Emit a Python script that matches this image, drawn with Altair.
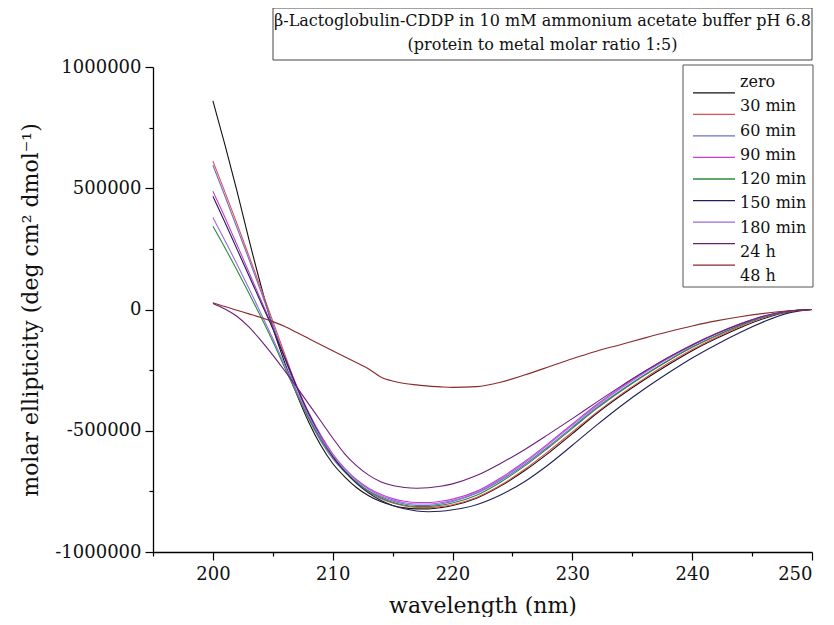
import altair as alt
import pandas as pd

# wavelengths (nm)
WL = list(range(200, 221)) + list(range(222, 251, 2))

SERIES = ["zero", "30 min", "60 min", "90 min", "120 min", "150 min", "180 min", "24 h", "48 h"]
COLORS = ["#111111", "#e05050", "#6f6fc8", "#c83ccf", "#2a8a3a", "#202058", "#9a6ae8", "#6a1f78", "#8a2a2a"]

zero = [860000, 680000, 490000, 290000, 100000, -75000, -220000, -350000, -465000, -560000, -635000,
        -690000, -735000, -768000, -792000, -808000, -818000, -822000, -822000, -817000, -808000,
        -778000, -728000, -665000, -592000, -512000, -430000, -357000, -290000, -228000, -170000,
        -120000, -75000, -37000, -10000, 0]
m30 = [612000, 485000, 355000, 222000, 88000, -48000, -185000, -320000, -440000, -535000, -610000,
       -668000, -715000, -752000, -779000, -798000, -810000, -816000, -817000, -813000, -805000,
       -775000, -725000, -660000, -585000, -505000, -425000, -352000, -285000, -222000, -165000,
       -115000, -70000, -33000, -9000, 0]
m60 = [595000, 468000, 338000, 208000, 75000, -62000, -200000, -338000, -452000, -543000, -615000,
       -670000, -715000, -748000, -772000, -790000, -802000, -808000, -808000, -802000, -792000,
       -758000, -705000, -640000, -565000, -485000, -405000, -335000, -270000, -210000, -155000,
       -108000, -65000, -30000, -8000, 0]
m90 = [488000, 380000, 268000, 155000, 40000, -75000, -195000, -315000, -425000, -518000, -595000,
       -655000, -702000, -737000, -762000, -780000, -791000, -796000, -796000, -791000, -782000,
       -750000, -695000, -628000, -552000, -472000, -393000, -322000, -257000, -198000, -145000,
       -99000, -59000, -27000, -7000, 0]
m120 = [343000, 255000, 163000, 68000, -30000, -132000, -240000, -348000, -448000, -535000, -607000,
        -665000, -712000, -749000, -776000, -795000, -807000, -812000, -812000, -807000, -798000,
        -766000, -712000, -646000, -570000, -490000, -410000, -338000, -272000, -211000, -156000,
        -108000, -66000, -31000, -8000, 0]
m150 = [467000, 360000, 250000, 140000, 30000, -80000, -200000, -320000, -430000, -525000, -605000,
        -668000, -718000, -757000, -787000, -808000, -822000, -831000, -834000, -832000, -826000,
        -805000, -765000, -710000, -640000, -560000, -478000, -400000, -328000, -262000, -200000,
        -145000, -95000, -50000, -15000, 0]
m180 = [379000, 285000, 188000, 88000, -15000, -120000, -230000, -340000, -440000, -527000, -600000,
        -658000, -705000, -741000, -767000, -785000, -797000, -802000, -802000, -797000, -788000,
        -755000, -700000, -633000, -557000, -477000, -398000, -327000, -262000, -202000, -148000,
        -101000, -61000, -28000, -7000, 0]
h24 = [25000, 2000, -28000, -72000, -127000, -188000, -253000, -320000, -390000, -460000, -530000,
       -595000, -645000, -683000, -710000, -726000, -734000, -737000, -735000, -729000, -719000,
       -685000, -635000, -578000, -515000, -450000, -383000, -318000, -256000, -198000, -146000,
       -100000, -60000, -27000, -7000, 0]
h48 = [28000, 12000, -3000, -18000, -33000, -50000, -70000, -95000, -120000, -145000, -170000,
       -195000, -220000, -245000, -278000, -295000, -305000, -311000, -316000, -319000, -321000,
       -318000, -300000, -270000, -237000, -203000, -172000, -145000, -118000, -92000, -68000,
       -47000, -30000, -16000, -5000, 0]

VALUES = [zero, m30, m60, m90, m120, m150, m180, h24, h48]

X_TICKS = [195, 200, 205, 210, 215, 220, 225, 230, 235, 240, 245, 250]
Y_TICKS = [-1000000, -750000, -500000, -250000, 0, 250000, 500000, 750000, 1000000]

TITLE_LINES = ["\u03b2-Lactoglobulin-CDDP in 10 mM ammonium acetate buffer pH 6.8",
               "(protein to metal molar ratio 1:5)"]
X_TITLE = "wavelength (nm)"
Y_TITLE = "molar ellipticity (deg cm\u00b2 dmol\u207b\u00b9)"

FONT = "DejaVu Serif"

rows = []
for name, vals in zip(SERIES, VALUES):
    for w, v in zip(WL, vals):
        rows.append({"series": name, "wl": w, "val": v})
df = pd.DataFrame(rows)
leg_df = pd.DataFrame({"series": SERIES})
one = pd.DataFrame({"t": [TITLE_LINES[0]]})

color_enc = alt.Color("series:N", sort=SERIES, scale=alt.Scale(domain=SERIES, range=COLORS), legend=None)

lines = alt.Chart(df).mark_line(strokeWidth=1.1, interpolate="monotone").encode(
    x=alt.X("wl:Q", scale=alt.Scale(domain=[195, 250], nice=False, zero=False),
            axis=alt.Axis(values=X_TICKS, title=X_TITLE,
                          labelExpr="datum.value % 10 === 0 ? datum.value + '' : ''",
                          tickSize={"condition": {"test": "datum.value % 10 === 0", "value": 8}, "value": 4},
                          labelPadding=5, titlePadding=12)),
    y=alt.Y("val:Q", scale=alt.Scale(domain=[-1000000, 1000000], nice=False),
            axis=alt.Axis(values=Y_TICKS, title=Y_TITLE,
                          labelExpr="datum.value % 500000 === 0 ? (datum.value < 0 ? '-' : '') + abs(datum.value) : ''",
                          tickSize={"condition": {"test": "datum.value % 500000 === 0", "value": 8}, "value": 4},
                          labelPadding=4, titlePadding=12)),
    color=color_enc,
    order=alt.Order("wl:Q"),
)

# legend (frame + entries placed on their own point scale)
legend_box = alt.Chart(one).mark_rect(fill="white", stroke="#555555", strokeWidth=1).encode(
    x=alt.value(530), x2=alt.value(660), y=alt.value(-2), y2=alt.value(220))
leg_y = alt.Y("series:N", sort=SERIES, axis=None,
              scale=alt.Scale(domain=SERIES, range=[15, 209], padding=0))
leg_lines = alt.Chart(leg_df).mark_rule(strokeWidth=1.3).encode(
    x=alt.value(540), x2=alt.value(582), y=leg_y, color=color_enc)
leg_text = alt.Chart(leg_df).mark_text(font=FONT, fontSize=16, color="#111111",
                                       align="left", baseline="middle").encode(
    x=alt.value(587), y=leg_y, text="series:N")

box = alt.Chart(one).mark_rect(fill="white", stroke="#444444", strokeWidth=1).encode(
    x=alt.value(120), x2=alt.value(659), y=alt.value(-59), y2=alt.value(-7))
t1 = alt.Chart(pd.DataFrame({"t": [TITLE_LINES[0]]})).mark_text(
    font=FONT, fontSize=16, color="#111111", align="center", baseline="middle").encode(
    text="t:N", x=alt.value(389.5), y=alt.value(-46))
t2 = alt.Chart(pd.DataFrame({"t": [TITLE_LINES[1]]})).mark_text(
    font=FONT, fontSize=16, color="#111111", align="center", baseline="middle").encode(
    text="t:N", x=alt.value(389.5), y=alt.value(-22))

chart = alt.layer(lines, legend_box, leg_lines, leg_text, box, t1, t2).resolve_scale(
    y="independent"
).properties(
    width=659, height=485,
    autosize=alt.AutoSizeParams(type="none"),
    padding={"left": 145, "top": 59, "right": 14, "bottom": 65},
).configure_view(strokeOpacity=0).configure_axis(
    domainColor="#000000", domainWidth=1.3, tickColor="#000000", tickWidth=1.2,
    labelFont=FONT, labelFontSize=18, labelColor="#111111",
    titleFont=FONT, titleFontSize=22, titleFontWeight="normal", titleColor="#111111",
    grid=False,
)

chart.save("out.html", embed_options={"renderer": "svg", "actions": False})
